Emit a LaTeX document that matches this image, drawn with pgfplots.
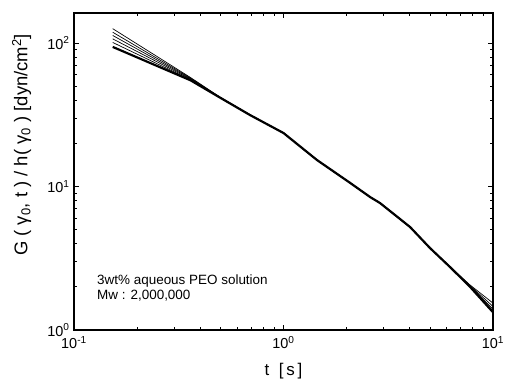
\documentclass[border=0pt]{standalone}
\usepackage{pgfplots}
\pgfplotsset{compat=1.18}
\usepackage{fontspec}
\setmainfont{Liberation Sans}
\begin{document}
\begin{tikzpicture}
\path[use as bounding box] (-74bp,-52bp) rectangle (432bp,330bp);
\begin{axis}[
  at={(0,0)}, anchor=south west, scale only axis,
  width=419bp, height=317bp,
  xmode=log, ymode=log,
  xmin=0.1, xmax=10, ymin=1, ymax=162,
  xtick={0.1,1,10},
  xticklabels={10\textsuperscript{-1},10\textsuperscript{0},10\textsuperscript{1}},
  ytick={1,10,100},
  yticklabels={10\textsuperscript{0},10\textsuperscript{1},10\textsuperscript{2}},
  minor xtick={0.2,0.3,0.4,0.5,0.6,0.7,0.8,0.9,2,3,4,5,6,7,8,9},
  minor ytick={2,3,4,5,6,7,8,9,20,30,40,50,60,70,80,90},
  tick align=inside,
  major tick length=5bp, minor tick length=3bp,
  axis line style={line width=1.1pt},
  every tick/.style={black, line width=0.8pt},
  ticklabel style={font=\fontsize{14.5}{14.5}\selectfont},
  xticklabel style={yshift=-3bp},
  yticklabel style={xshift=-1bp},
  xlabel={t\ \ [\,s\,]},
  xlabel style={font=\fontsize{17}{17}\selectfont, at={(axis description cs:0.5,0)}, anchor=base, yshift=-45bp},
  ylabel={G ( γ\textsubscript{0}, t ) / h( γ\textsubscript{0} ) [dyn/cm\textsuperscript{2}]},
  ylabel style={font=\fontsize{18.5}{18.5}\selectfont, at={(axis description cs:-0.125,0.584)}, anchor=center},
]
% thin curves
\addplot[black, line width=0.7pt] coordinates {(0.153,126)(0.36,57.5)(0.5,41.8)(0.692,31.6)(1.0,23.6)(1.445,15.3)(2.08,10.6)(2.59,8.45)(2.89,7.67)(4.02,5.22)(5.0,3.73)(6.23,2.77)(7.77,2.06)(10,1.54)};
\addplot[black, line width=0.7pt] coordinates {(0.153,119)(0.36,57)(0.5,41.7)(0.692,31.6)(1.0,23.6)(1.445,15.3)(2.08,10.6)(2.59,8.45)(2.89,7.67)(4.02,5.22)(5.0,3.73)(6.23,2.76)(7.77,2.04)(10,1.46)};
\addplot[black, line width=0.7pt] coordinates {(0.153,113)(0.36,56.5)(0.5,41.6)(0.692,31.5)(1.0,23.6)(1.445,15.3)(2.08,10.6)(2.59,8.45)(2.89,7.67)(4.02,5.22)(5.0,3.73)(6.23,2.75)(7.77,2.02)(10,1.40)};
\addplot[black, line width=0.7pt] coordinates {(0.153,107)(0.36,56)(0.5,41.6)(0.692,31.5)(1.0,23.6)(1.445,15.3)(2.08,10.6)(2.59,8.45)(2.89,7.67)(4.02,5.22)(5.0,3.73)(6.23,2.75)(7.77,2.01)(10,1.36)};
\addplot[black, line width=0.7pt] coordinates {(0.153,101)(0.36,55.5)(0.5,41.5)(0.692,31.5)(1.0,23.6)(1.445,15.3)(2.08,10.6)(2.59,8.45)(2.89,7.67)(4.02,5.22)(5.0,3.73)(6.23,2.75)(7.77,2.0)(10,1.34)};
% thick curve
\addplot[black, line width=2.2pt] coordinates {(0.153,94)(0.36,55)(0.5,41.5)(0.692,31.5)(1.0,23.6)(1.445,15.3)(2.08,10.6)(2.59,8.45)(2.89,7.67)(4.02,5.22)(5.0,3.73)(6.23,2.75)(7.77,2.0)(10,1.33)};
\node[anchor=base west, font=\fontsize{13.5}{16}\selectfont, inner sep=0pt] at (rel axis cs:0.055,0.145) {3wt\% aqueous PEO solution};
\node[anchor=base west, font=\fontsize{13.5}{16}\selectfont, inner sep=0pt] at (rel axis cs:0.055,0.095) {Mw : 2,000,000};
\end{axis}
\end{tikzpicture}
\end{document}
